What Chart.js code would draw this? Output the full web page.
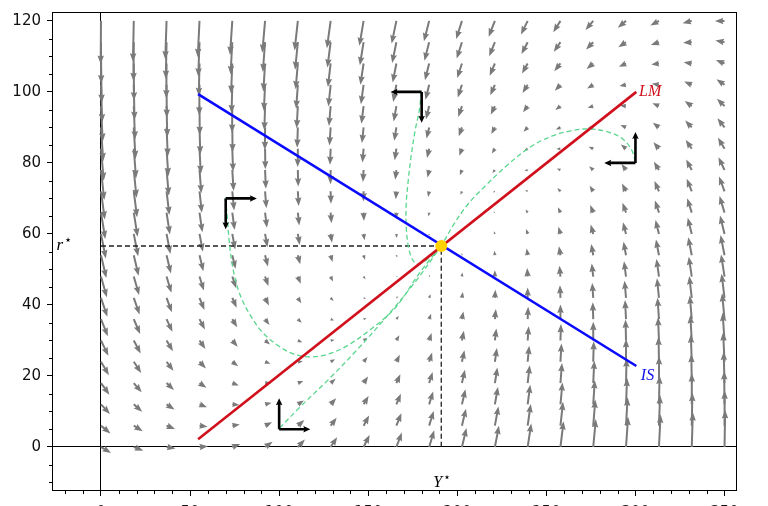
<!DOCTYPE html>
<html>
<head>
<meta charset="utf-8">
<script src="https://cdn.jsdelivr.net/npm/chart.js@4.4.1/dist/chart.umd.min.js"></script>
<style>
  html, body { margin: 0; padding: 0; background: #fff; overflow: hidden; }
  #wrap { width: 768px; height: 530px; }
</style>
</head>
<body>
<div id="wrap"><canvas id="islm"></canvas></div>
<script>
// IS-LM phase diagram: direction field, IS/LM curves, four trajectories

// IS and LM curves (output Y, interest rate r)
const isY = [54.5, 300.5];
const isR = [99.4, 22.8];
const lmY = [54.5, 300.5];
const lmR = [2.2, 100.0];

// equilibrium
const eqY = 191;
const eqR = 56.6;

// direction field grid
const fieldY = [0, 18.4, 36.8, 55.3, 73.7, 92.1, 110.5, 128.9, 147.4, 165.8, 184.2,
                202.6, 221.1, 239.5, 257.9, 276.3, 294.7, 313.2, 331.6, 350];
const fieldR = [0, 6, 12, 18, 24, 30, 36, 42, 48, 54, 60, 66, 72, 78, 84, 90, 96, 102, 108, 114, 120];
// adjustment speeds used for the field arrows
const speedY = 0.048;
const speedR = 0.087;

// trajectories
const path1Y = [69.7, 70.8, 71.9, 74.2, 78.1, 83.7, 90.4, 98.9, 107.9, 116.3, 125.8, 137.1, 151.1, 165.2, 179.2, 191];
const path1R = [70.1, 65.4, 58.3, 49.9, 42.8, 37.2, 32.4, 28.7, 26.2, 25.4, 25.9, 28.2, 33.0, 39.2, 49.3, 56.6];
const path2Y = [179.8, 178.7, 176.4, 174.2, 172.5, 171.3, 171.4, 172.8, 175.5, 179.0, 184.0, 191];
const path2R = [100.0, 94.9, 89.3, 82.3, 75.2, 68.2, 61.5, 55.8, 52.3, 51.6, 53.2, 56.6];
const path3Y = [300.0, 297.8, 292.7, 284.8, 273.6, 263.5, 253.4, 241.0, 227.0, 215.7, 206.2, 198.9, 191];
const path3R = [80.3, 83.7, 86.8, 88.7, 89.6, 89.0, 87.6, 84.5, 78.9, 73.5, 68.5, 63.4, 56.6];
const path4Y = [100.2, 111.8, 127.5, 142.7, 159.6, 176.4, 191];
const path4R = [5.3, 11.3, 18.9, 26.8, 36.3, 46.5, 56.6];

// starting points and the signs of their initial motion
const startY = [70, 180, 300, 100];
const startR = [70, 100, 80, 5];
const startDirY = [1, -1, -1, 1];
const startDirR = [-1, -1, 1, 1];
const startLenY = 17.5;
const startLenR = 8.7;

// ticks
const xMajor = [0, 50, 100, 150, 200, 250, 300, 350];
const yMajor = [0, 20, 40, 60, 80, 100, 120];
const xMinor = [-20, -10, 10, 20, 30, 40, 60, 70, 80, 90, 110, 120, 130, 140, 160, 170, 180, 190,
                210, 220, 230, 240, 260, 270, 280, 290, 310, 320, 330, 340];
const yMinor = [-10, -5, 5, 10, 15, 25, 30, 35, 45, 50, 55, 65, 70, 75, 85, 90, 95, 105, 110, 115];

const pts = (xs, ys) => xs.map((x, i) => ({ x: x, y: ys[i] }));

function lineAt(xs, ys, x) {
    return ys[0] + (x - xs[0]) * (ys[1] - ys[0]) / (xs[1] - xs[0]);
}

// filled arrow polygon, quiver style
function arrow(ctx, x0, y0, x1, y1, w, hl, hw) {
    const dx = x1 - x0, dy = y1 - y0;
    let len = Math.hypot(dx, dy);
    if (len < 0.3) return;
    const ux = dx / len, uy = dy / len;
    const nx = -uy, ny = ux;
    let s = 1;
    if (len < hl) { s = len / hl; }
    const HL = hl * s, HW = hw * s / 2, W = w * s / 2, HA = HL * 0.9;
    const bx = x1 - ux * HA, by = y1 - uy * HA;
    const cx = x1 - ux * HL, cy = y1 - uy * HL;
    ctx.beginPath();
    ctx.moveTo(x0 + nx * W, y0 + ny * W);
    ctx.lineTo(bx + nx * W, by + ny * W);
    ctx.lineTo(cx + nx * HW, cy + ny * HW);
    ctx.lineTo(x1, y1);
    ctx.lineTo(cx - nx * HW, cy - ny * HW);
    ctx.lineTo(bx - nx * W, by - ny * W);
    ctx.lineTo(x0 - nx * W, y0 - ny * W);
    ctx.closePath();
    ctx.fill();
}

const fieldPlugin = {
    id: 'field',
    beforeDatasetsDraw(chart) {
        const ctx = chart.ctx, xs = chart.scales.x, ys = chart.scales.y, a = chart.chartArea;
        ctx.save();
        ctx.beginPath();
        ctx.rect(a.left, a.top, a.right - a.left, a.bottom - a.top);
        ctx.clip();
        ctx.fillStyle = '#7a7a7a';
        fieldY.forEach(Y => {
            fieldR.forEach(R => {
                const u = speedY * (lineAt(isY, isR, Y) - R);
                const v = speedR * (lineAt(lmY, lmR, Y) - R);
                arrow(ctx, xs.getPixelForValue(Y), ys.getPixelForValue(R),
                      xs.getPixelForValue(Y + u), ys.getPixelForValue(R + v), 2, 8.5, 6.5);
            });
        });
        ctx.restore();
    }
};

function mathLabel(ctx, text, star, x, y, size, color, align) {
    ctx.fillStyle = color;
    ctx.font = 'italic ' + size + 'px "Liberation Serif"';
    ctx.textBaseline = 'middle';
    ctx.textAlign = 'left';
    const w = ctx.measureText(text).width;
    let sx = x;
    if (align === 'center') sx = x - w / 2;
    ctx.fillText(text, sx, y);
    if (star) {
        ctx.font = Math.round(size * 0.75) + 'px "DejaVu Sans"';
        ctx.fillText('\u22C6', sx + w + 1, y - size * 0.3);
    }
}

const overlayPlugin = {
    id: 'overlay',
    afterDatasetsDraw(chart) {
        const ctx = chart.ctx, xs = chart.scales.x, ys = chart.scales.y, a = chart.chartArea;
        ctx.save();
        // initial direction markers
        ctx.fillStyle = '#000';
        startY.forEach((Y, i) => {
            const px = xs.getPixelForValue(Y), py = ys.getPixelForValue(startR[i]);
            arrow(ctx, px, py, xs.getPixelForValue(Y + startDirY[i] * startLenY), py, 2.6, 7, 6.5);
            arrow(ctx, px, py, px, ys.getPixelForValue(startR[i] + startDirR[i] * startLenR), 2.6, 7, 6.5);
        });
        // labels
        mathLabel(ctx, 'LM', false, xs.getPixelForValue(302), ys.getPixelForValue(100), 16, '#d0101c', 'left');
        mathLabel(ctx, 'IS', false, xs.getPixelForValue(303), ys.getPixelForValue(20), 16, '#1010ee', 'left');
        mathLabel(ctx, 'r', true, xs.getPixelForValue(-25), ys.getPixelForValue(eqR), 17, '#000', 'left');
        mathLabel(ctx, 'Y', true, xs.getPixelForValue(eqY - 2), ys.getPixelForValue(-10), 16, '#000', 'center');
        // frame
        ctx.strokeStyle = '#000';
        ctx.lineWidth = 1;
        ctx.strokeRect(Math.round(a.left) + 0.5, Math.round(a.top) + 0.5,
                       Math.round(a.right - a.left) - 1, Math.round(a.bottom - a.top) - 1);
        // minor ticks
        ctx.beginPath();
        xMinor.forEach(v => {
            const p = Math.round(xs.getPixelForValue(v)) + 0.5;
            ctx.moveTo(p, a.bottom);
            ctx.lineTo(p, a.bottom + 3);
        });
        yMinor.forEach(v => {
            const p = Math.round(ys.getPixelForValue(v)) + 0.5;
            ctx.moveTo(a.left, p);
            ctx.lineTo(a.left - 3, p);
        });
        ctx.stroke();
        ctx.restore();
    }
};

const axisGrid = {
    color: c => (c.tick && c.tick.value === 0) ? '#000' : 'rgba(0,0,0,0)',
    tickColor: '#000',
    tickLength: 5,
    lineWidth: 1
};

const tickFont = { family: 'DejaVu Sans', size: 15 };

new Chart(document.getElementById('islm'), {
    type: 'scatter',
    data: {
        datasets: [
            {
                label: 'equilibrium',
                data: [{ x: eqY, y: eqR }],
                pointRadius: 6,
                pointBackgroundColor: '#ffd200',
                pointBorderWidth: 0,
                showLine: false
            },
            {
                label: 'LM',
                data: pts(lmY, lmR),
                showLine: true,
                borderColor: '#d0101c',
                borderWidth: 2.6,
                pointRadius: 0
            },
            {
                label: 'IS',
                data: pts(isY, isR),
                showLine: true,
                borderColor: '#0a0aff',
                borderWidth: 2.6,
                pointRadius: 0
            },
            ...[[path1Y, path1R], [path2Y, path2R], [path3Y, path3R], [path4Y, path4R]].map(p => ({
                label: 'trajectory',
                data: pts(p[0], p[1]),
                showLine: true,
                borderColor: '#5ad68e',
                borderWidth: 1.3,
                borderDash: [5, 3],
                tension: 0.35,
                pointRadius: 0
            })),
            {
                label: 'guide',
                data: [{ x: 0, y: eqR }, { x: eqY, y: eqR }, { x: eqY, y: 0 }],
                showLine: true,
                borderColor: '#222',
                borderWidth: 1.3,
                borderDash: [5, 3],
                pointRadius: 0
            }
        ]
    },
    options: {
        responsive: true,
        maintainAspectRatio: false,
        animation: false,
        layout: { padding: { top: 12, right: 31, left: 0, bottom: 0 } },
        plugins: {
            legend: { display: false },
            tooltip: { enabled: false }
        },
        scales: {
            x: {
                type: 'linear',
                min: -27.5,
                max: 357,
                afterFit: s => { s.height = 39; s.paddingLeft = 0; s.paddingRight = 0; },
                afterBuildTicks: s => { s.ticks = xMajor.map(v => ({ value: v })); },
                border: { display: false },
                grid: axisGrid,
                ticks: { color: '#111', font: tickFont, padding: 8, maxRotation: 0 }
            },
            y: {
                type: 'linear',
                min: -12.4,
                max: 122.5,
                afterFit: s => { s.width = 52; s.paddingTop = 0; s.paddingBottom = 0; },
                afterBuildTicks: s => { s.ticks = yMajor.map(v => ({ value: v })); },
                border: { display: false },
                grid: axisGrid,
                ticks: { color: '#111', font: tickFont, padding: 6 }
            }
        }
    },
    plugins: [fieldPlugin, overlayPlugin]
});
</script>
</body>
</html>
